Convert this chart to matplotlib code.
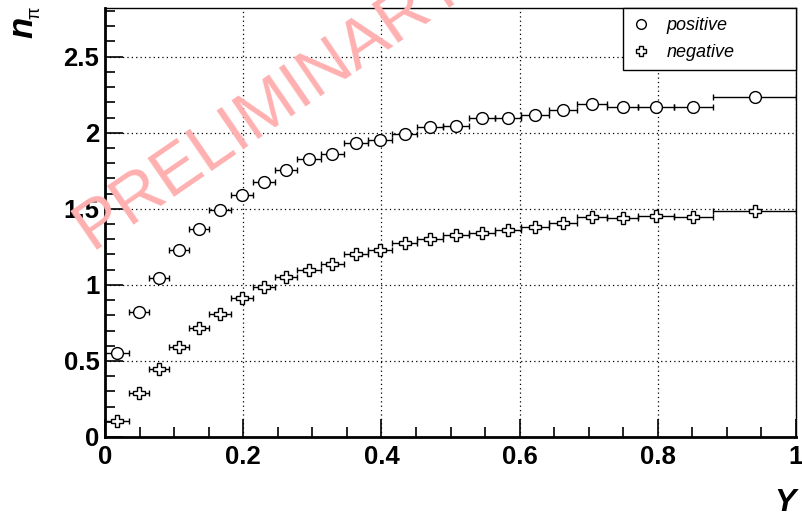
import numpy as np
import matplotlib.pyplot as plt
from matplotlib.lines import Line2D

plt.rcParams['font.family'] = ['Liberation Sans', 'DejaVu Sans']

# Y bins and multiplicities
bin_edges = [0.0, 0.035, 0.064, 0.093, 0.122, 0.151, 0.183, 0.214, 0.246, 0.278,
             0.312, 0.346, 0.381, 0.415, 0.452, 0.489, 0.527, 0.564, 0.602, 0.642,
             0.683, 0.727, 0.772, 0.823, 0.880, 1.0]
n_pos = [0.55, 0.82, 1.045, 1.23, 1.37, 1.495, 1.59, 1.675, 1.755, 1.825,
         1.86, 1.93, 1.95, 1.995, 2.035, 2.045, 2.095, 2.10, 2.115, 2.15,
         2.19, 2.17, 2.17, 2.17, 2.235]
n_neg = [0.104, 0.288, 0.45, 0.59, 0.715, 0.81, 0.915, 0.985, 1.05, 1.096,
         1.135, 1.20, 1.228, 1.275, 1.30, 1.325, 1.34, 1.36, 1.38, 1.405,
         1.445, 1.44, 1.45, 1.447, 1.485]

edges = np.array(bin_edges)
ycen = 0.5 * (edges[1:] + edges[:-1])
yerr = 0.5 * (edges[1:] - edges[:-1])

fig = plt.figure(figsize=(8.02, 5.17), dpi=100)
ax = fig.add_axes([105/802, 1-437/517, 691/802, 429/517])

ekw = dict(fmt='none', ecolor='black', elinewidth=1.0, capsize=2.2, capthick=1.0, zorder=3)
ax.errorbar(ycen, n_pos, xerr=yerr, **ekw)
ax.errorbar(ycen, n_neg, xerr=yerr, **ekw)
ax.plot(ycen, n_pos, 'o', ms=8.5, mfc='white', mec='black', mew=1.0, zorder=4)
ax.plot(ycen, n_neg, 'P', ms=8.5, mfc='white', mec='black', mew=1.0, zorder=4)

ax.set_xlim(0, 1)
ax.set_ylim(0, 2.82)
ax.set_xticks(np.arange(0, 1.01, 0.2))
ax.set_xticks(np.arange(0, 1.001, 0.05), minor=True)
ax.set_yticks(np.arange(0, 2.6, 0.5))
ax.set_yticks(np.arange(0, 2.82, 0.1), minor=True)
ax.set_xticklabels(['0', '0.2', '0.4', '0.6', '0.8', '1'])
ax.set_yticklabels(['0', '0.5', '1', '1.5', '2', '2.5'])
ax.tick_params(which='both', direction='in', top=False, right=False, width=1.2)
ax.tick_params(which='major', length=13, labelsize=18.5)
ax.tick_params(which='minor', length=7)
ax.tick_params(axis='y', pad=4)
ax.tick_params(axis='x', pad=6)
for lab in ax.get_xticklabels() + ax.get_yticklabels():
    lab.set_fontweight('bold')
ax.grid(True, which='major', color='black', linestyle=(0, (1, 2.5)), linewidth=0.9)
for side in ['left', 'bottom']:
    ax.spines[side].set_linewidth(2.0)
for side in ['top', 'right']:
    ax.spines[side].set_linewidth(1.0)

# legend box stretched over the upper right corner
handles = [Line2D([], [], ls='none', marker='o', ms=7, mfc='white', mec='black'),
           Line2D([], [], ls='none', marker='P', ms=7.5, mfc='white', mec='black')]
leg = ax.legend(handles, ['positive', 'negative'], loc='upper left',
                bbox_to_anchor=((623-105)/691, 0.0, (796-623)/691, 1.0), mode='expand',
                prop=dict(style='italic', size=13),
                frameon=True, fancybox=False, edgecolor='black', framealpha=1,
                borderaxespad=0, borderpad=0.5, handlelength=1.0, handletextpad=0.9,
                labelspacing=0.55)
leg.get_frame().set_linewidth(1.0)
leg.set_zorder(5)

# axis titles
fig.text(23/802, 1-38/517, 'n', rotation=90, ha='center', va='bottom',
         fontsize=25, fontweight='bold', style='italic')
fig.text(35/802, 1-19/517, 'π', rotation=90, ha='center', va='bottom', fontsize=13)
fig.text(796/802, 1-511/517, 'Y', ha='right', va='baseline',
         fontsize=23, fontweight='bold', style='italic')

fig.text(91/802, 1-250/517, 'PRELIMINARY', rotation=34.5, rotation_mode='anchor',
         ha='left', va='baseline', fontsize=49, color='#ffb0b0', zorder=10)

fig.savefig('out.png', dpi=100)
